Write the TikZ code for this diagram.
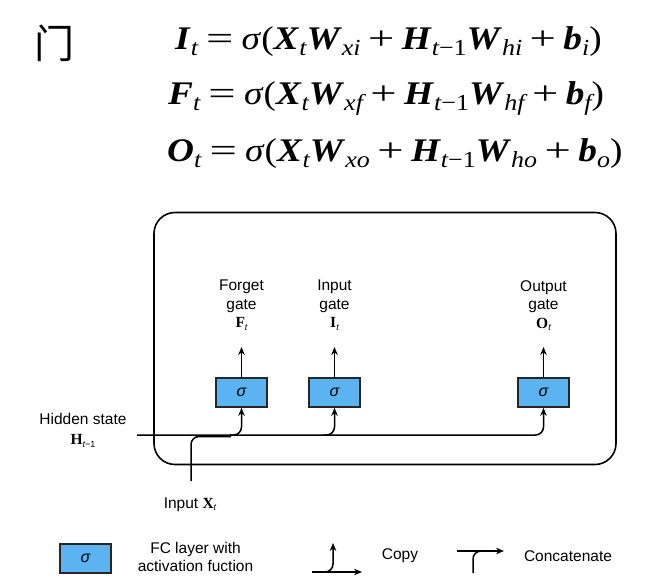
\documentclass[tikz,border=0pt]{standalone}
\usepackage{fontspec}
\usepackage{graphicx}
\setmainfont{Liberation Sans}
\newfontfamily\eqf{Liberation Serif}
\newfontfamily\cjk{Noto Sans CJK SC}
\usetikzlibrary{arrows.meta}
\definecolor{gateblue}{RGB}{92,179,242}
\newcommand{\V}[1]{\textbf{\textit{#1}}}
\newcommand{\sbs}[1]{\raisebox{-0.42ex}{\fontsize{23}{23}\selectfont\mdseries\itshape #1}}
\newcommand{\eqs}{\hspace{0.22em}\scalebox{1.3}[1]{=}\hspace{0.22em}}
\newcommand{\pls}{\hspace{0.2em}\scalebox{1.25}[1]{+}\hspace{0.2em}}
\newcommand{\tsub}[1]{\raisebox{-0.35ex}{\fontsize{9}{9}\selectfont\itshape #1}}
\newcommand{\eqline}[1]{\scalebox{1.13}[1]{#1}}
\tikzset{
 gatebox/.style={draw=black!85, line width=1.6pt, fill=gateblue, minimum width=51pt, minimum height=29pt, inner sep=0pt, font=\fontsize{16}{16}\selectfont\itshape},
 lbl/.style={align=center, font=\fontsize{15.5}{18.5}\selectfont, inner sep=0pt},
 conn/.style={line width=1.5pt, rounded corners=8pt},
 arr/.style={conn, -{Stealth[length=8pt,width=6.5pt]}},
 eq/.style={anchor=base west, inner sep=0pt, font=\eqf\fontsize{33}{33}\selectfont},
}
\begin{document}
\begin{tikzpicture}[x=1pt,y=-1pt]
\useasboundingbox (0,0) rectangle (657,587);
% title and equations
\node[inner sep=0pt, font=\cjk\fontsize{40}{40}\selectfont] (men) at (54.5,43) {门};
\node[eq] (eq1) at (175,49) {\eqline{\V{I}\sbs{t}\eqs\textit{σ}(\V{X}\sbs{t}\V{W}\sbs{xi}\pls\V{H}\sbs{t\upshape −1}\V{W}\sbs{hi}\pls\V{b}\sbs{i})}};
\node[eq] (eq2) at (168,104) {\eqline{\V{F}\sbs{t}\eqs\textit{σ}(\V{X}\sbs{t}\V{W}\sbs{xf}\pls\V{H}\sbs{t\upshape −1}\V{W}\sbs{hf}\pls\V{b}\sbs{f})}};
\node[eq] (eq3) at (167,161) {\eqline{\V{O}\sbs{t}\eqs\textit{σ}(\V{X}\sbs{t}\V{W}\sbs{xo}\pls\V{H}\sbs{t\upshape −1}\V{W}\sbs{ho}\pls\V{b}\sbs{o})}};
% cell
\node[draw, line width=1.6pt, rounded corners=21pt, minimum width=462pt, minimum height=252pt, inner sep=0pt] (cell) at (385,338.5) {};
% gates
\node[gatebox] (fg) at (241.5,392.5) {σ};
\node[gatebox] (ig) at (334.5,392.5) {σ};
\node[gatebox] (og) at (543.5,392.5) {σ};
\node[lbl, anchor=north] (fl) at (241.5,280) {Forget\\gate\\{\eqf\bfseries F}\tsub{t}};
\node[lbl, anchor=north] (il) at (334.5,280) {Input\\gate\\{\eqf\bfseries I}\tsub{t}};
\node[lbl, anchor=north] (ol) at (543.5,280) {Output\\gate\\{\eqf\bfseries O}\tsub{t}};
\coordinate (ft) at (241.5,347);
\coordinate (it) at (334.5,347);
\coordinate (ot) at (543.5,347);
\draw[arr] (fg.north) -- (ft);
\draw[arr] (ig.north) -- (it);
\draw[arr] (og.north) -- (ot);
% hidden state
\node[lbl, anchor=north, font=\fontsize{15.5}{20}\selectfont] (hl) at (83,413) {Hidden state\\{\eqf\bfseries H}\tsub{t\upshape −1}};
\coordinate (hs) at (137,435);
\draw[arr] (hs) -- (og.south |- hs) -- (og.south);
\draw[arr] ([xshift=-12pt]fg.south |- hs) -- (fg.south |- hs) -- (fg.south);
\draw[arr] ([xshift=-12pt]ig.south |- hs) -- (ig.south |- hs) -- (ig.south);
% input
\coordinate (xs) at (191,481);
\coordinate (xm) at (191,436.5);
\draw[conn] (xs) -- (xm) -- ([xshift=40pt]xm);
\node[lbl, anchor=base] (xl) at (190,508) {Input {\eqf\bfseries X}\tsub{t}};
% legend
\node[gatebox] (lg) at (85.5,558.5) {σ};
\node[lbl] (lgt) at (195.5,557) {FC layer with\\activation fuction};
\coordinate (cpa) at (312,572);
\coordinate (cpb) at (362,572);
\coordinate (cpc) at (333,543);
\draw[arr] (cpa) -- (cpb);
\draw[arr] ([xshift=-11pt]cpc |- cpa) -- (cpc |- cpa) -- (cpc);
\node[lbl] (cpl) at (400,556) {Copy};
\coordinate (cca) at (457,551);
\coordinate (ccb) at (504,551);
\coordinate (ccc) at (473,573);
\draw[arr] (cca) -- (ccb);
\draw[conn] (ccc) -- (ccc |- cca) -- ([xshift=12pt]ccc |- cca);
\node[lbl] (ccl) at (568,556) {Concatenate};
\end{tikzpicture}
\end{document}
